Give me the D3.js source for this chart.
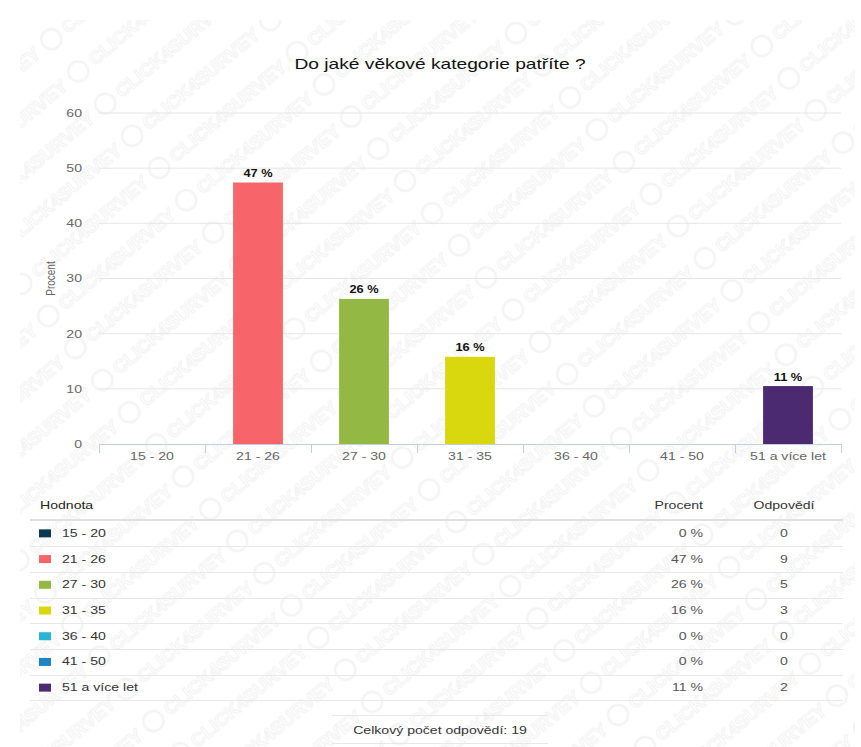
<!DOCTYPE html>
<html><head><meta charset="utf-8">
<script src="https://cdn.jsdelivr.net/npm/d3@7"></script>
<style>
body{margin:0;background:#fff}
svg{display:block}
text{font-family:"Liberation Sans",Arial,sans-serif}
</style>
</head><body>
<svg id="c" width="861" height="747"></svg>
<script>
// ---- data ----
const chartTitle = "Do jaké věkové kategorie patříte ?";
const categories = ["15 - 20","21 - 26","27 - 30","31 - 35","36 - 40","41 - 50","51 a více let"];
const percentValues = [0, 47.4, 26.3, 15.8, 0, 0, 10.5];
const percentLabels = ["0 %","47 %","26 %","16 %","0 %","0 %","11 %"];
const responseCounts = [0, 9, 5, 3, 0, 0, 2];
const colors = ["#0e3a4f","#f7646a","#93b843","#d9d80f","#27b5d6","#1f83c2","#4b2a71"];
const yTicks = [0, 10, 20, 30, 40, 50, 60];
const yAxisTitle = "Procent";
const tableHeaders = ["Hodnota","Procent","Odpovědí"];
const totalLabel = "Celkový počet odpovědí: 19";
const watermarkText = "CLICK4SURVEY";

// ---- setup ----
const SX = 1.28; // horizontal text stretch seen in the reference
const svg = d3.select("#c");
const defs = svg.append("defs");

// faint watermark
const pat = defs.append("pattern").attr("id","wm").attr("patternUnits","userSpaceOnUse")
  .attr("width",180).attr("height",42).attr("patternTransform","rotate(-40)");
pat.append("circle").attr("cx",14).attr("cy",21).attr("r",10).attr("fill","none")
  .attr("stroke","#f4f4f4").attr("stroke-width",2.5);
pat.append("text").attr("x",30).attr("y",28).attr("font-size",19).attr("font-weight","bold")
  .attr("fill","none").attr("stroke","#f2f2f2").attr("stroke-width",1.2).text(watermarkText);
svg.append("rect").attr("width",861).attr("height",747).attr("fill","#fff");
svg.append("rect").attr("x",20).attr("y",20).attr("width",835).attr("height",727).attr("fill","url(#wm)");

function stext(g, x, y, str, opts) {
  const t = g.append("text")
    .attr("transform", `translate(${x},${y}) scale(${SX},1)`)
    .attr("font-size", opts.size || 11)
    .attr("fill", opts.fill || "#333")
    .attr("text-anchor", opts.anchor || "start")
    .attr("dominant-baseline", "central")
    .text(str);
  if (opts.weight) t.attr("font-weight", opts.weight);
  return t;
}

// ---- scales ----
const plotL = 99, plotR = 841, plotT = 113, plotB = 444;
const xStep = d3.scaleBand().domain(categories).range([plotL, plotR]).padding(0);
const x = d3.scaleBand().domain(categories).range([plotL, plotR]).paddingInner(0.53).paddingOuter(0.265);
const y = d3.scaleLinear().domain([0, 60]).range([plotB, plotT]);

// title
stext(svg, 440, 64, chartTitle, {size: 15, fill: "#111", anchor: "middle"});

// gridlines
svg.append("g").selectAll("line").data(yTicks.filter(d => d > 0)).join("line")
  .attr("x1", plotL).attr("x2", plotR)
  .attr("y1", d => y(d)).attr("y2", d => y(d))
  .attr("stroke", "#e6e6e6").attr("stroke-width", 1);

// y axis labels
const yAxis = svg.append("g").attr("transform", `translate(${plotL},0)`)
  .call(d3.axisLeft(y).tickValues(yTicks).tickSize(0).tickPadding(0));
yAxis.select(".domain").remove();
yAxis.selectAll("text")
  .attr("x", 0).attr("dy", null)
  .attr("dominant-baseline", "central")
  .attr("transform", `translate(-17,0) scale(${SX},1)`)
  .attr("font-size", 11).attr("font-family", null).attr("fill", "#666");

// y axis title
svg.append("text")
  .attr("transform", `translate(51,${(plotT + plotB) / 2}) rotate(-90) scale(1,1.2)`)
  .attr("text-anchor", "middle").attr("dominant-baseline", "central")
  .attr("font-size", 10).attr("fill", "#666").text(yAxisTitle);

// bars
svg.append("g").selectAll("rect").data(categories).join("rect")
  .attr("x", d => x(d))
  .attr("width", x.bandwidth())
  .attr("y", (d, i) => y(percentValues[i]))
  .attr("height", (d, i) => plotB - y(percentValues[i]))
  .attr("fill", (d, i) => colors[i]);

// bar value labels
const lbl = svg.append("g");
categories.forEach((c, i) => {
  if (percentValues[i] > 0) {
    stext(lbl, x(c) + x.bandwidth() / 2, y(percentValues[i]) - 9, percentLabels[i],
      {size: 10, fill: "#111", anchor: "middle", weight: "bold"});
  }
});

// x axis
const xAxis = svg.append("g").attr("transform", `translate(0,${plotB})`)
  .call(d3.axisBottom(xStep).tickSize(0).tickPadding(0));
xAxis.select(".domain").remove();
xAxis.selectAll("text")
  .attr("y", 0).attr("dy", null)
  .attr("dominant-baseline", "central")
  .attr("transform", `translate(0,13) scale(${SX},1)`)
  .attr("font-size", 11).attr("font-family", null).attr("fill", "#666");
svg.append("line").attr("x1", plotL).attr("x2", plotR).attr("y1", plotB + 0.5).attr("y2", plotB + 0.5)
  .attr("stroke", "#c0d0e0").attr("stroke-width", 1);
const bounds = categories.map(c => xStep(c)).concat([plotR]);
svg.append("g").selectAll("line").data(bounds).join("line")
  .attr("x1", d => Math.round(d) + 0.5).attr("x2", d => Math.round(d) + 0.5)
  .attr("y1", plotB).attr("y2", plotB + 9)
  .attr("stroke", "#c0d0e0").attr("stroke-width", 1);

// ---- table ----
const tbl = svg.append("g");
const colX = {name: 40, pct: 703, cnt: 784};
stext(tbl, colX.name, 506, tableHeaders[0], {size: 11, fill: "#222"});
stext(tbl, colX.pct, 506, tableHeaders[1], {size: 11, fill: "#333", anchor: "end"});
stext(tbl, colX.cnt, 506, tableHeaders[2], {size: 11, fill: "#333", anchor: "middle"});
tbl.append("line").attr("x1", 30).attr("x2", 843).attr("y1", 520).attr("y2", 520)
  .attr("stroke", "#e0e0e0").attr("stroke-width", 2);

const rows = d3.scaleBand().domain(categories).range([520.5, 700.5]);
categories.forEach((c, i) => {
  const cy = rows(c) + rows.bandwidth() / 2;
  tbl.append("rect").attr("x", 39).attr("y", cy - 4).attr("width", 12).attr("height", 8).attr("fill", colors[i]);
  stext(tbl, 62, cy, c, {size: 11, fill: "#333"});
  stext(tbl, colX.pct, cy, percentLabels[i], {size: 11, fill: "#555", anchor: "end"});
  stext(tbl, colX.cnt, cy, String(responseCounts[i]), {size: 11, fill: "#555", anchor: "middle"});
  tbl.append("line").attr("x1", 30).attr("x2", 843)
    .attr("y1", Math.round(rows(c) + rows.bandwidth()) + 0.5).attr("y2", Math.round(rows(c) + rows.bandwidth()) + 0.5)
    .attr("stroke", "#e8e8e8").attr("stroke-width", 1);
});

// footer
tbl.append("line").attr("x1", 332).attr("x2", 548).attr("y1", 715.5).attr("y2", 715.5).attr("stroke", "#e8e8e8");
tbl.append("line").attr("x1", 332).attr("x2", 548).attr("y1", 743.5).attr("y2", 743.5).attr("stroke", "#e8e8e8");
stext(tbl, 440, 731, totalLabel, {size: 11, fill: "#333", anchor: "middle"});
</script>
</body></html>
